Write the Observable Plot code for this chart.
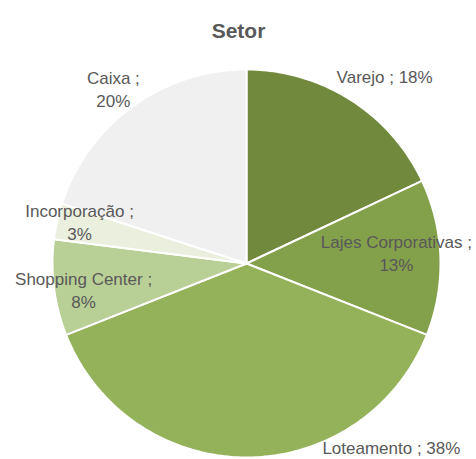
<!DOCTYPE html>
<html>
<head>
<meta charset="utf-8">
<script src="https://cdn.jsdelivr.net/npm/d3@7"></script>
<script src="https://cdn.jsdelivr.net/npm/@observablehq/plot@0.6"></script>
<style>
  body { margin: 0; background: #fff; }
  svg { display: block; }
</style>
</head>
<body>
<div id="chart"></div>
<script>
const title = "Setor";
const categories = ["Varejo", "Lajes Corporativas", "Loteamento", "Shopping Center", "Incorporação", "Caixa"];
const values = [18, 13, 38, 8, 3, 20];
const colors = ["#70893d", "#83a04b", "#94b259", "#b8cf96", "#ebf0de", "#f0f0f0"];

// label layout (radius factor relative to pie radius, angle nudge in degrees, line break)
const labelRadius = [1.2, 0.775, 1.205, 0.85, 0.888, 1.135];
const labelNudge = [4, -2.6, -38.3, -1.7, 1.7, -1.2];
const labelBreak = [false, true, false, true, true, true];

const total = d3.sum(values);
const toRad = Math.PI / 180;

// build slice polygons (clockwise from 12 o'clock)
const slicePoints = [];
const labels = [];
let acc = 0;
categories.forEach((name, i) => {
  const a0 = acc / total * 360;
  acc += values[i];
  const a1 = acc / total * 360;
  slicePoints.push({name, x: 0, y: 0});
  const n = Math.max(2, Math.ceil(a1 - a0));
  for (let k = 0; k <= n; k++) {
    const a = (a0 + (a1 - a0) * k / n) * toRad;
    slicePoints.push({name, x: Math.sin(a), y: Math.cos(a)});
  }
  const am = ((a0 + a1) / 2 + labelNudge[i]) * toRad;
  const r = labelRadius[i];
  labels.push({
    x: r * Math.sin(am),
    y: r * Math.cos(am),
    text: name + " ;" + (labelBreak[i] ? "\n" : " ") + values[i] + "%"
  });
});

const W = 476, H = 459, R = 194, CX = 246, CY = 263;

const chart = Plot.plot({
  width: W,
  height: H,
  margin: 0,
  x: {type: "linear", domain: [-CX / R, (W - CX) / R], axis: null},
  y: {type: "linear", domain: [-(H - CY) / R, CY / R], axis: null},
  color: {domain: categories, range: colors},
  style: {fontFamily: "'Liberation Sans', Arial, sans-serif", background: "#fff"},
  marks: [
    Plot.line(slicePoints, {
      x: "x", y: "y", z: "name", fill: "name",
      stroke: "#fff", strokeWidth: 2, curve: "linear-closed"
    }),
    Plot.text(labels, {
      x: "x", y: "y", text: "text",
      fill: "#595959", fontSize: 17, lineHeight: 1.35
    }),
    Plot.text([title], {
      text: d => d, frameAnchor: "top", dy: 23,
      fill: "#595959", fontSize: 21, fontWeight: "bold"
    })
  ]
});

document.getElementById("chart").appendChild(chart);
</script>
</body>
</html>
